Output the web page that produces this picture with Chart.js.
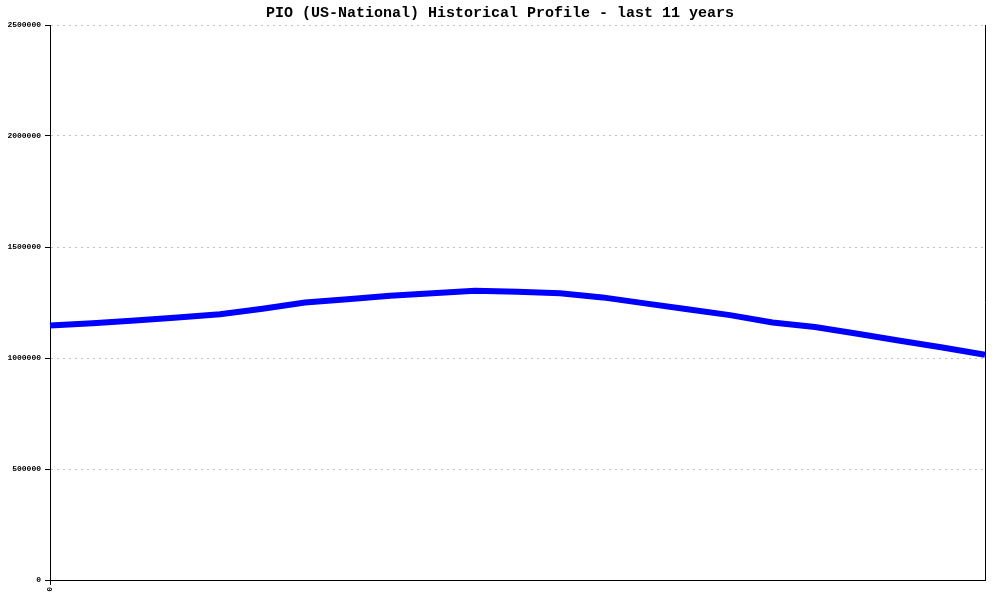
<!DOCTYPE html>
<html>
<head>
<meta charset="utf-8">
<title>PIO (US-National) Historical Profile</title>
<script src="https://cdn.jsdelivr.net/npm/chart.js@4/dist/chart.umd.min.js"></script>
<style>
  html, body { margin: 0; padding: 0; background: #fff; }
  #wrap { width: 1000px; height: 600px; }
</style>
</head>
<body>
<div id="wrap"><canvas id="chart_pio" width="1000" height="600"></canvas></div>
<script>
// x labels: only the first one is printed on the axis
var labels = ['0', '', '', '', '', '', '', '', '', '', '', '', '', '', '', '', '', '', '', '', '', '', ''];
// values
var pio = [1146000, 1157000, 1169000, 1182000, 1197000, 1222000, 1250000, 1265000, 1280000, 1292000,
           1303000, 1298000, 1292000, 1273000, 1246000, 1220000, 1193000, 1160000, 1140000, 1109000,
           1078000, 1047000, 1015000];
var yTicks = [0, 500000, 1000000, 1500000, 2000000, 2500000];

// right frame line
var rightBorder = {
    id: 'rightBorder',
    afterDraw: function (chart) {
        var a = chart.chartArea, c = chart.ctx;
        c.save();
        c.strokeStyle = '#000';
        c.lineWidth = 1;
        c.beginPath();
        c.moveTo(Math.round(a.right) + 0.5, a.top);
        c.lineTo(Math.round(a.right) + 0.5, a.bottom);
        c.stroke();
        c.restore();
    }
};

var ctx = document.getElementById('chart_pio').getContext('2d');
var pioChart = new Chart(ctx, {
    type: 'line',
    data: {
        labels: labels,
        datasets: [{
            data: pio,
            borderColor: '#0000ff',
            borderWidth: 6,
            pointRadius: 0,
            tension: 0,
            fill: false
        }]
    },
    options: {
        responsive: false,
        animation: false,
        layout: { padding: 0 },
        plugins: {
            legend: { display: false },
            tooltip: { enabled: false },
            title: {
                display: true,
                text: 'PIO (US-National) Historical Profile - last 11 years',
                color: '#000',
                font: { family: 'Liberation Mono', size: 15, weight: 'bold', lineHeight: 1.2 },
                padding: { top: 4, bottom: 3 }
            }
        },
        scales: {
            x: {
                offset: false,
                grid: {
                    drawOnChartArea: false,
                    drawTicks: true,
                    tickLength: 5,
                    tickBorderDash: [],
                    tickColor: function (c) { return c.index === 0 ? '#000' : 'rgba(0,0,0,0)'; }
                },
                border: { color: '#000', width: 1 },
                ticks: {
                    autoSkip: false,
                    maxRotation: 90,
                    minRotation: 90,
                    padding: 2,
                    color: '#000',
                    font: { family: 'Liberation Mono', size: 8, weight: 'bold' }
                },
                afterFit: function (scale) { scale.height = 20; }
            },
            y: {
                min: 0,
                max: 2500000,
                afterBuildTicks: function (scale) {
                    scale.ticks = yTicks.map(function (v) { return { value: v }; });
                },
                grid: { color: '#c0c0c0', tickColor: '#000', tickLength: 5, tickBorderDash: [] },
                border: { color: '#000', width: 1, dash: [2, 4] },
                ticks: {
                    padding: 4,
                    color: '#000',
                    font: { family: 'Liberation Mono', size: 8, weight: 'bold' },
                    callback: function (v) { return String(v); }
                },
                afterFit: function (scale) { scale.width = 50; }
            },
            // empty right gutter
            yr: {
                position: 'right',
                grid: { display: false },
                border: { display: false },
                ticks: { display: false },
                afterFit: function (scale) { scale.width = 15; }
            }
        }
    },
    plugins: [rightBorder]
});
</script>
</body>
</html>
